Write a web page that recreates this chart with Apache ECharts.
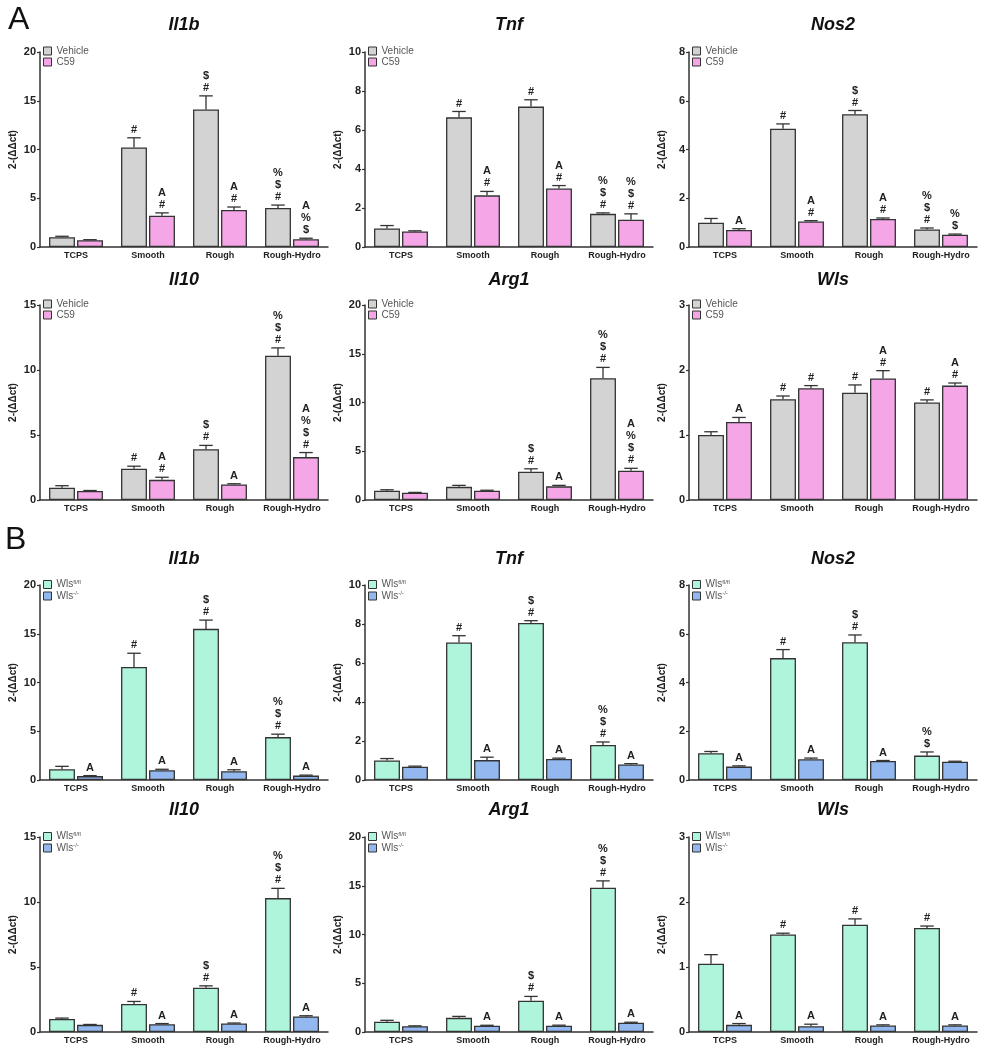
<!DOCTYPE html>
<html>
<head>
<meta charset="utf-8">
<title>Gene expression panels</title>
<script src="https://cdn.jsdelivr.net/npm/echarts@6/dist/echarts.min.js"></script>
<style>
  html, body { margin: 0; padding: 0; background: #fff; }
  #chart { width: 993px; height: 1050px; }
</style>
</head>
<body>
<div id="chart"></div>
<script>
/* ===================== data ===================== */
var categories = ['TCPS', 'Smooth', 'Rough', 'Rough-Hydro'];

// A: Vehicle vs C59
var aIl1bVeh = [1.0, 10.2, 14.1, 4.0];   var aIl1bVehErr = [0.1, 1.0, 1.4, 0.3];   var aIl1bVehSig = ['', '#', '$\n#', '%\n$\n#'];
var aIl1bC59 = [0.7, 3.2, 3.8, 0.8];     var aIl1bC59Err = [0.05, 0.3, 0.3, 0.1];  var aIl1bC59Sig = ['', 'A\n#', 'A\n#', 'A\n%\n$'];

var aTnfVeh = [0.95, 6.65, 7.2, 1.7];    var aTnfVehErr = [0.15, 0.3, 0.35, 0.05]; var aTnfVehSig = ['', '#', '#', '%\n$\n#'];
var aTnfC59 = [0.8, 2.65, 3.0, 1.4];     var aTnfC59Err = [0.03, 0.2, 0.15, 0.3];  var aTnfC59Sig = ['', 'A\n#', 'A\n#', '%\n$\n#'];

var aNos2Veh = [1.0, 4.85, 5.45, 0.72];  var aNos2VehErr = [0.17, 0.2, 0.15, 0.06]; var aNos2VehSig = ['', '#', '$\n#', '%\n$\n#'];
var aNos2C59 = [0.7, 1.05, 1.15, 0.5];   var aNos2C59Err = [0.05, 0.03, 0.04, 0.03]; var aNos2C59Sig = ['A', 'A\n#', 'A\n#', '%\n$'];

var aIl10Veh = [0.95, 2.4, 3.9, 11.1];   var aIl10VehErr = [0.15, 0.2, 0.3, 0.6];  var aIl10VehSig = ['', '#', '$\n#', '%\n$\n#'];
var aIl10C59 = [0.7, 1.55, 1.2, 3.3];    var aIl10C59Err = [0.03, 0.2, 0.05, 0.35]; var aIl10C59Sig = ['', 'A\n#', 'A', 'A\n%\n$\n#'];

var aArg1Veh = [0.95, 1.35, 2.9, 12.5];  var aArg1VehErr = [0.1, 0.15, 0.3, 1.1];  var aArg1VehSig = ['', '', '$\n#', '%\n$\n#'];
var aArg1C59 = [0.75, 0.95, 1.4, 3.0];   var aArg1C59Err = [0.03, 0.05, 0.1, 0.25]; var aArg1C59Sig = ['', '', 'A', 'A\n%\n$\n#'];

var aWlsVeh = [1.0, 1.55, 1.65, 1.5];    var aWlsVehErr = [0.05, 0.05, 0.12, 0.04]; var aWlsVehSig = ['', '#', '#', '#'];
var aWlsC59 = [1.2, 1.72, 1.87, 1.76];   var aWlsC59Err = [0.07, 0.04, 0.12, 0.04]; var aWlsC59Sig = ['A', '#', 'A\n#', 'A\n#'];

// B: Wls fl/fl vs Wls -/-
var bIl1bFl = [1.1, 11.6, 15.5, 4.4];    var bIl1bFlErr = [0.3, 1.4, 0.9, 0.3];    var bIl1bFlSig = ['', '#', '$\n#', '%\n$\n#'];
var bIl1bKo = [0.4, 1.0, 0.9, 0.45];     var bIl1bKoErr = [0.05, 0.1, 0.15, 0.05]; var bIl1bKoSig = ['A', 'A', 'A', 'A'];

var bTnfFl = [1.0, 7.05, 8.05, 1.8];     var bTnfFlErr = [0.1, 0.35, 0.12, 0.15];  var bTnfFlSig = ['', '#', '$\n#', '%\n$\n#'];
var bTnfKo = [0.68, 1.02, 1.08, 0.8];    var bTnfKoErr = [0.03, 0.15, 0.04, 0.04]; var bTnfKoSig = ['', 'A', 'A', 'A'];

var bNos2Fl = [1.1, 5.0, 5.65, 1.0];     var bNos2FlErr = [0.07, 0.35, 0.3, 0.15]; var bNos2FlSig = ['', '#', '$\n#', '%\n$'];
var bNos2Ko = [0.55, 0.85, 0.78, 0.75];  var bNos2KoErr = [0.03, 0.05, 0.02, 0.02]; var bNos2KoSig = ['A', 'A', 'A', ''];

var bIl10Fl = [1.0, 2.15, 3.4, 10.3];    var bIl10FlErr = [0.07, 0.2, 0.15, 0.75]; var bIl10FlSig = ['', '#', '$\n#', '%\n$\n#'];
var bIl10Ko = [0.55, 0.6, 0.65, 1.2];    var bIl10KoErr = [0.03, 0.05, 0.04, 0.05]; var bIl10KoSig = ['', 'A', 'A', 'A'];

var bArg1Fl = [1.05, 1.45, 3.2, 14.8];   var bArg1FlErr = [0.15, 0.15, 0.45, 0.7]; var bArg1FlSig = ['', '', '$\n#', '%\n$\n#'];
var bArg1Ko = [0.6, 0.65, 0.65, 0.95];   var bArg1KoErr = [0.03, 0.04, 0.05, 0.05]; var bArg1KoSig = ['', 'A', 'A', 'A'];

var bWlsFl = [1.05, 1.5, 1.65, 1.6];     var bWlsFlErr = [0.14, 0.02, 0.09, 0.03]; var bWlsFlSig = ['', '#', '#', '#'];
var bWlsKo = [0.11, 0.09, 0.1, 0.1];     var bWlsKoErr = [0.02, 0.03, 0.01, 0.01]; var bWlsKoSig = ['A', 'A', 'A', 'A'];
/* ===================== end ===================== */


/* ===================== layout / style ===================== */
var FONT = 'Liberation Sans, Arial, sans-serif';
var BAR_FRAC = 0.36;   // barWidth as share of category band
var GAP_FRAC = 0.08;   // barGap as share of bar width

var colLeft = [40, 365, 689];
var rowTop = [52, 305, 585, 837];
var titleTop = [16, 271, 550, 801];
var plotW = 288;
var plotH = 195;

var namesA = ['Vehicle', 'C59'];
var namesB = ['WlsFl', 'WlsKo'];
var colorsA = ['#d3d3d3', '#f5a6e7'];
var colorsB = ['#aef5db', '#92b8ef'];

// 面板表：按行排列
var panels = [
    {title: 'Il1b', max: 20, step: 5, names: namesA, colors: colorsA,
     s: [[aIl1bVeh, aIl1bVehErr, aIl1bVehSig], [aIl1bC59, aIl1bC59Err, aIl1bC59Sig]]},
    {title: 'Tnf', max: 10, step: 2, names: namesA, colors: colorsA,
     s: [[aTnfVeh, aTnfVehErr, aTnfVehSig], [aTnfC59, aTnfC59Err, aTnfC59Sig]]},
    {title: 'Nos2', max: 8, step: 2, names: namesA, colors: colorsA,
     s: [[aNos2Veh, aNos2VehErr, aNos2VehSig], [aNos2C59, aNos2C59Err, aNos2C59Sig]]},
    {title: 'Il10', max: 15, step: 5, names: namesA, colors: colorsA,
     s: [[aIl10Veh, aIl10VehErr, aIl10VehSig], [aIl10C59, aIl10C59Err, aIl10C59Sig]]},
    {title: 'Arg1', max: 20, step: 5, names: namesA, colors: colorsA,
     s: [[aArg1Veh, aArg1VehErr, aArg1VehSig], [aArg1C59, aArg1C59Err, aArg1C59Sig]]},
    {title: 'Wls', max: 3, step: 1, names: namesA, colors: colorsA,
     s: [[aWlsVeh, aWlsVehErr, aWlsVehSig], [aWlsC59, aWlsC59Err, aWlsC59Sig]]},
    {title: 'Il1b', max: 20, step: 5, names: namesB, colors: colorsB,
     s: [[bIl1bFl, bIl1bFlErr, bIl1bFlSig], [bIl1bKo, bIl1bKoErr, bIl1bKoSig]]},
    {title: 'Tnf', max: 10, step: 2, names: namesB, colors: colorsB,
     s: [[bTnfFl, bTnfFlErr, bTnfFlSig], [bTnfKo, bTnfKoErr, bTnfKoSig]]},
    {title: 'Nos2', max: 8, step: 2, names: namesB, colors: colorsB,
     s: [[bNos2Fl, bNos2FlErr, bNos2FlSig], [bNos2Ko, bNos2KoErr, bNos2KoSig]]},
    {title: 'Il10', max: 15, step: 5, names: namesB, colors: colorsB,
     s: [[bIl10Fl, bIl10FlErr, bIl10FlSig], [bIl10Ko, bIl10KoErr, bIl10KoSig]]},
    {title: 'Arg1', max: 20, step: 5, names: namesB, colors: colorsB,
     s: [[bArg1Fl, bArg1FlErr, bArg1FlSig], [bArg1Ko, bArg1KoErr, bArg1KoSig]]},
    {title: 'Wls', max: 3, step: 1, names: namesB, colors: colorsB,
     s: [[bWlsFl, bWlsFlErr, bWlsFlSig], [bWlsKo, bWlsKoErr, bWlsKoSig]]}
];
/* ===================== end ===================== */


/* ===================== error bars + significance marks ===================== */
function makeErrRender(side, sig) {
    return function (params, api) {
        var i = api.value(0);
        var mean = api.value(1);
        var err = api.value(2);
        var band = api.size([1, 0])[0];
        var bw = band * BAR_FRAC;
        var gap = bw * GAP_FRAC;
        var x = api.coord([i, 0])[0] + side * (bw + gap) / 2;
        var y0 = api.coord([i, mean])[1];
        var y1 = api.coord([i, mean + err])[1];
        var cap = bw * 0.26;
        var children = [
            {type: 'line', shape: {x1: x, y1: y0, x2: x, y2: y1}, style: {stroke: '#333', lineWidth: 1.3}},
            {type: 'line', shape: {x1: x - cap, y1: y1, x2: x + cap, y2: y1}, style: {stroke: '#333', lineWidth: 1.3}}
        ];
        var t = sig[params.dataIndex];
        if (t) {
            children.push({
                type: 'text', x: x, y: y1 - 2,
                style: {
                    text: t, fill: '#222', font: 'bold 11px ' + FONT,
                    align: 'center', verticalAlign: 'bottom',
                    textAlign: 'center', textVerticalAlign: 'bottom',
                    lineHeight: 12
                }
            });
        }
        return {type: 'group', children: children};
    };
}
/* ===================== end ===================== */


/* ===================== build option ===================== */
var grids = [], xAxes = [], yAxes = [], titles = [], legends = [], series = [];

panels.forEach(function (p, k) {
    var left = colLeft[k % 3];
    var row = Math.floor(k / 3);
    var top = rowTop[row];

    grids.push({left: left, top: top, width: plotW, height: plotH, containLabel: false, outerBoundsMode: 'none'});

    titles.push({
        text: p.title, left: left + plotW / 2, top: titleTop[row], textAlign: 'center', padding: 0,
        textStyle: {fontFamily: FONT, fontSize: 18, fontWeight: 'bold', fontStyle: 'italic', color: '#111'}
    });

    xAxes.push({
        type: 'category', gridIndex: k, data: categories,
        axisLine: {lineStyle: {color: '#333', width: 1.5}},
        axisTick: {show: false},
        axisLabel: {interval: 0, margin: 4, fontFamily: FONT, fontSize: 9, fontWeight: 'bold', color: '#222'}
    });

    yAxes.push({
        type: 'value', gridIndex: k, min: 0, max: p.max, interval: p.step,
        name: '2-(\u0394\u0394ct)', nameLocation: 'middle', nameGap: 22,
        nameTextStyle: {fontFamily: FONT, fontSize: 10, fontWeight: 'bold', color: '#222'},
        axisLine: {show: true, lineStyle: {color: '#333', width: 1.5}},
        axisTick: {show: true, length: 3, lineStyle: {color: '#333', width: 1.2}},
        axisLabel: {margin: 4, fontFamily: FONT, fontSize: 11, fontWeight: 'bold', color: '#222'},
        splitLine: {show: false}
    });

    legends.push({
        data: p.names, orient: 'vertical', left: left + 3, top: top - 6,
        icon: 'rect', itemWidth: 8, itemHeight: 8, itemGap: 1, padding: 0,
        itemStyle: {borderColor: '#333', borderWidth: 1},
        textStyle: {
            fontFamily: FONT, fontSize: 10, color: '#555',
            rich: {sup: {fontFamily: FONT, fontSize: 6, color: '#555', verticalAlign: 'top', padding: [0, 0, 5, 0]}}
        },
        formatter: function (name) {
            if (name === 'WlsFl') return 'Wls{sup|fl/fl}';
            if (name === 'WlsKo') return 'Wls{sup|-/-}';
            return name;
        }
    });

    p.s.forEach(function (s, j) {
        series.push({
            type: 'bar', name: p.names[j], xAxisIndex: k, yAxisIndex: k,
            data: s[0], barWidth: (BAR_FRAC * 100) + '%', barGap: (GAP_FRAC * 100) + '%',
            itemStyle: {color: p.colors[j], borderColor: '#333', borderWidth: 1.3},
            animation: false
        });
    });

    p.s.forEach(function (s, j) {
        series.push({
            type: 'custom', xAxisIndex: k, yAxisIndex: k, clip: false, z: 5,
            renderItem: makeErrRender(j === 0 ? -1 : 1, s[2]),
            encode: {x: 0, y: 1},
            data: s[0].map(function (v, i) { return [i, v, s[1][i]]; }),
            animation: false, silent: true
        });
    });
});

var option = {
    backgroundColor: '#fff',
    animation: false,
    title: titles,
    legend: legends,
    grid: grids,
    xAxis: xAxes,
    yAxis: yAxes,
    series: series,
    graphic: [
        {type: 'text', left: 8, top: 4, style: {text: 'A', font: '32px ' + FONT, fill: '#111'}},
        {type: 'text', left: 5, top: 524, style: {text: 'B', font: '32px ' + FONT, fill: '#111'}}
    ]
};

var chart = echarts.init(document.getElementById('chart'), null, {renderer: 'canvas'});
chart.setOption(option);
/* ===================== end ===================== */
</script>
</body>
</html>
